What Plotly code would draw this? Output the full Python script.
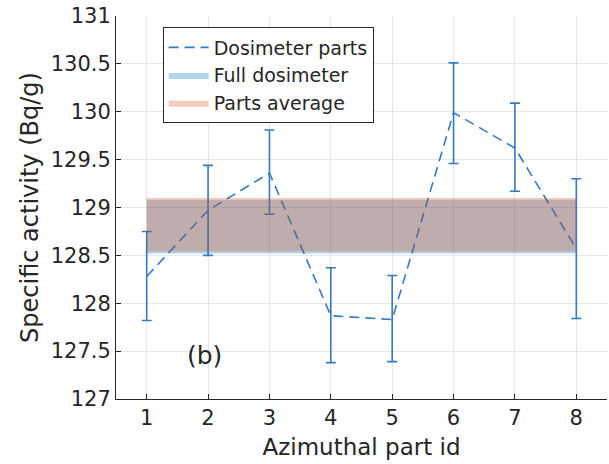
import plotly.graph_objects as go

part_ids = [1, 2, 3, 4, 5, 6, 7, 8]
activity = [128.28, 128.97, 129.36, 127.87, 127.83, 129.99, 129.62, 128.57]
err_plus = [0.47, 0.47, 0.45, 0.50, 0.46, 0.52, 0.47, 0.73]
err_minus = [0.46, 0.47, 0.43, 0.49, 0.44, 0.53, 0.45, 0.73]

full_lo, full_hi = 128.52, 129.08
avg_lo, avg_hi = 128.54, 129.10
band_x = [1, 8]

y_ticks = [127, 127.5, 128, 128.5, 129, 129.5, 130, 130.5, 131]
y_tick_text = ["127", "127.5", "128", "128.5", "129", "129.5", "130", "130.5", "131"]

blue = "#3479c4"
font = "DejaVu Sans"
fc = "#262626"

fig = go.Figure()

fig.add_trace(go.Scatter(
    x=part_ids, y=activity, mode="lines", name="Dosimeter parts",
    line=dict(color=blue, width=1.6, dash="10px,6px"),
    error_y=dict(type="data", symmetric=False, array=err_plus, arrayminus=err_minus,
                 color=blue, thickness=1.6, width=5),
))
fig.add_trace(go.Scatter(
    x=[band_x[0], band_x[1], band_x[1], band_x[0], band_x[0]],
    y=[full_lo, full_lo, full_hi, full_hi, full_lo],
    fill="toself", mode="lines", line=dict(width=0),
    fillcolor="rgba(0,114,189,0.3)", name="Full dosimeter",
))
fig.add_trace(go.Scatter(
    x=[band_x[0], band_x[1], band_x[1], band_x[0], band_x[0]],
    y=[avg_lo, avg_lo, avg_hi, avg_hi, avg_lo],
    fill="toself", mode="lines", line=dict(width=0),
    fillcolor="rgba(217,83,25,0.3)", name="Parts average",
))

fig.add_annotation(x=1.95, y=127.45, text="(b)", showarrow=False,
                   font=dict(size=25, color=fc, family=font))

fig.update_layout(
    width=609, height=464,
    margin=dict(l=116, r=2, t=16, b=65),
    paper_bgcolor="white", plot_bgcolor="white",
    font=dict(family=font, color=fc, size=21),
    showlegend=True,
    legend=dict(x=0.095, y=0.97, xanchor="left", yanchor="top",
                bgcolor="white", bordercolor="#262626", borderwidth=1,
                font=dict(size=19, family=font, color=fc),
                tracegroupgap=0, itemwidth=40),
    xaxis=dict(range=[0.5, 8.5], tickvals=part_ids, ticktext=[str(i) for i in part_ids],
               showgrid=True, gridcolor="#e6e6e6", gridwidth=1,
               showline=True, linecolor="#262626", linewidth=1,
               ticks="inside", ticklen=5, tickcolor="#262626",
               zeroline=False, tickfont=dict(size=21),
               title=dict(text="Azimuthal part id", font=dict(size=23), standoff=9)),
    yaxis=dict(range=[127, 131], tickvals=y_ticks, ticktext=y_tick_text,
               showgrid=True, gridcolor="#e6e6e6", gridwidth=1,
               showline=True, linecolor="#262626", linewidth=1,
               ticks="inside", ticklen=5, tickcolor="#262626",
               zeroline=False, tickfont=dict(size=21),
               title=dict(text="Specific activity (Bq/g)", font=dict(size=24), standoff=5)),
)

fig.write_html("out.html")
